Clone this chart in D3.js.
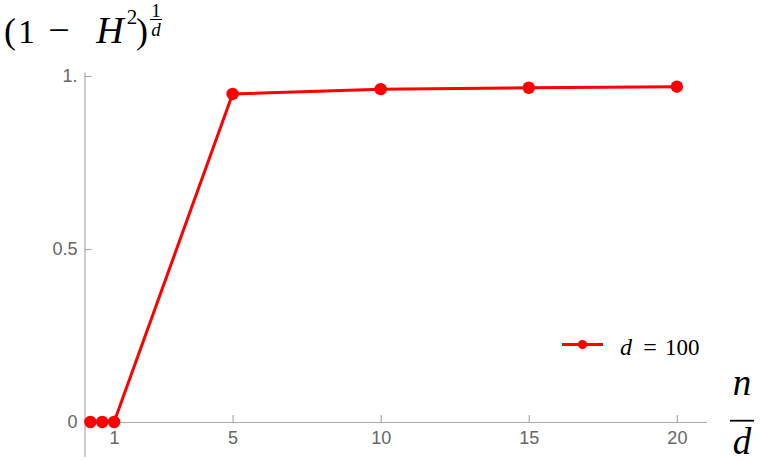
<!DOCTYPE html>
<html>
<head>
<meta charset="utf-8">
<script src="https://cdn.jsdelivr.net/npm/d3@7"></script>
<style>
  body { margin: 0; background: #fff; }
  .tick text { font-family: "Liberation Sans", Arial, sans-serif; font-size: 18px; fill: #666; }
  .math { font-family: "Liberation Serif", "Times New Roman", serif; fill: #000; }
</style>
</head>
<body>
<div id="chart"></div>
<script>
// data: ratio n/d and the value of (1 - H^2)^(1/d) for d = 100
const ratios = [0.2, 0.6, 1, 5, 10, 15, 20];
const values = [0, 0, 0, 0.948, 0.962, 0.966, 0.969];
const xTicks = [1, 5, 10, 15, 20];
const yTicks = [0, 0.5, 1];
const yTickLabels = ["0", "0.5", "1."];
const seriesName = "100";

const width = 762, height = 462;
const axisColor = "#aaa", red = "#ff0000";

const svg = d3.select("#chart")
  .append("svg")
    .attr("width", width)
    .attr("height", height);

// scales
const x = d3.scaleLinear()
    .domain([0, 21])
    .range([84.5, 706.5]);
const y = d3.scaleLinear()
    .domain([-0.1, 1.0115])
    .range([456.6, 72]);

// X axis, crossing at y = 0
const xAxis = svg.append("g")
    .attr("transform", `translate(0, ${y(0)})`)
    .call(d3.axisBottom(x).tickValues(xTicks).tickFormat(d3.format("d"))
      .tickSize(-7).tickSizeOuter(0).tickPadding(8));

// Y axis, crossing at x = 0
const yAxis = svg.append("g")
    .attr("transform", `translate(${x(0)}, 0)`)
    .call(d3.axisLeft(y).tickValues(yTicks).tickFormat((d, i) => yTickLabels[i])
      .tickSize(-7).tickSizeOuter(0).tickPadding(7));

[xAxis, yAxis].forEach(g => {
  g.select(".domain").attr("stroke", axisColor).attr("stroke-width", 1.2);
  g.selectAll(".tick line").attr("stroke", axisColor).attr("stroke-width", 1.2);
});
xAxis.selectAll(".tick text").attr("dy", "0.78em");

// line and points
const pts = ratios.map((r, i) => [r, values[i]]);
svg.append("path")
    .datum(pts)
    .attr("fill", "none")
    .attr("stroke", red)
    .attr("stroke-width", 3)
    .attr("stroke-linejoin", "round")
    .attr("d", d3.line().x(d => x(d[0])).y(d => y(d[1])));

svg.selectAll("circle.pt")
  .data(pts)
  .join("circle")
    .attr("class", "pt")
    .attr("cx", d => x(d[0]))
    .attr("cy", d => y(d[1]))
    .attr("r", 6.2)
    .attr("fill", red);

// helper for a piece of math text
function mathText(tx, ty, str, size, opts = {}) {
  return svg.append("text")
      .attr("class", "math")
      .attr("x", tx).attr("y", ty)
      .attr("text-anchor", opts.anchor || "start")
      .style("font-size", size + "px")
      .style("font-style", opts.italic ? "italic" : "normal")
      .text(str);
}

// Y axis label: (1 - H^2)^(1/d)
mathText(4, 43, "(", 36);
mathText(26.5, 43, "1", 34, {anchor: "middle"});
mathText(59, 43, "\u2212", 38, {anchor: "middle"});
mathText(110, 43, "H", 38, {anchor: "middle", italic: true});
mathText(132, 24, "2", 21, {anchor: "middle"});
mathText(136, 43, ")", 36);
mathText(156, 17, "1", 19, {anchor: "middle"});
svg.append("line")
    .attr("x1", 150).attr("x2", 162)
    .attr("y1", 19.5).attr("y2", 19.5)
    .attr("stroke", "#000").attr("stroke-width", 1);
mathText(156, 36, "d", 19, {anchor: "middle", italic: true});

// X axis label: n / d
mathText(742, 395, "n", 37, {anchor: "middle", italic: true});
svg.append("line")
    .attr("x1", 730).attr("x2", 754)
    .attr("y1", 420.7).attr("y2", 420.7)
    .attr("stroke", "#000").attr("stroke-width", 1.8);
mathText(742, 454, "d", 37, {anchor: "middle", italic: true});

// legend
const legend = svg.append("g").attr("transform", "translate(562, 344.5)");
legend.append("line")
    .attr("x1", 0).attr("x2", 41)
    .attr("stroke", red).attr("stroke-width", 3);
legend.append("circle")
    .attr("cx", 20.5).attr("r", 4.6).attr("fill", red);
mathText(626, 354.5, "d", 24, {anchor: "middle", italic: true});
mathText(650, 354.5, "=", 24, {anchor: "middle"});
mathText(665, 354.5, seriesName, 23);
</script>
</body>
</html>
